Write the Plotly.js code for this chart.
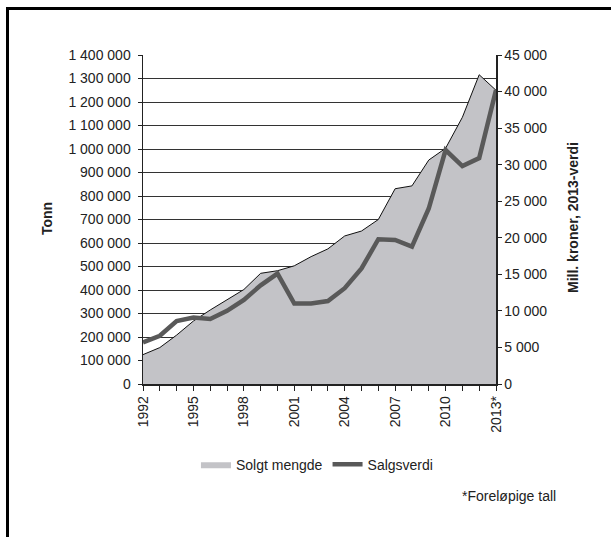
<!DOCTYPE html>
<html>
<head>
<meta charset="utf-8">
<script src="https://cdn.plot.ly/plotly-3.0.1.min.js"></script>
<style>
  html, body { margin: 0; padding: 0; background: #fff; }
  #frame { position: absolute; left: 6px; top: 7px; width: 700px; height: 700px;
           border-left: 3px solid #000; border-top: 3px solid #000; pointer-events: none; }
  #chart { position: absolute; left: 0; top: 0; width: 611px; height: 537px; }
</style>
</head>
<body>
<div id="chart"></div>
<div id="frame"></div>
<script>
const years = ["1992","1993","1994","1995","1996","1997","1998","1999","2000","2001","2002",
               "2003","2004","2005","2006","2007","2008","2009","2010","2011","2012","2013*"];
const labelledYears = ["1992","1995","1998","2001","2004","2007","2010","2013*"];
// Solgt mengde (tonn)
const soldTonnes = [125000,155000,208000,268000,315000,357000,402000,471000,482000,503000,542000,
                    575000,630000,651000,700000,831000,843000,953000,1003000,1135000,1316000,1250000];
// Salgsverdi (mill. kroner, 2013-verdi)
const salesValue = [5700,6600,8600,9100,8900,10000,11500,13500,15100,11000,11000,
                    11350,13100,15800,19800,19700,18800,24000,32000,29800,30900,40200];
const leftTicks = [0,100000,200000,300000,400000,500000,600000,700000,800000,900000,1000000,1100000,1200000,1300000,1400000];
const rightTicks = [0,5000,10000,15000,20000,25000,30000,35000,40000,45000];

const font = {family: "Liberation Sans, Arial, sans-serif", size: 14, color: "#222"};

const traces = [
  {
    x: years, y: soldTonnes, name: "Solgt mengde", type: "scatter", mode: "lines",
    fill: "tozeroy", fillcolor: "#c3c3c7", line: {color: "#c3c3c7", width: 0},
    yaxis: "y"
  },
  {
    x: years, y: soldTonnes, name: "Solgt mengde kant", type: "scatter", mode: "lines",
    line: {color: "#111", width: 1}, showlegend: false, yaxis: "y"
  },
  {
    x: years, y: salesValue, name: "Salgsverdi", type: "scatter", mode: "lines",
    line: {color: "#595959", width: 4.5}, yaxis: "y2"
  }
];

const layout = {
  width: 611, height: 537,
  margin: {l: 143, r: 115, t: 55, b: 153},
  paper_bgcolor: "#fff", plot_bgcolor: "#fff",
  font: font,
  separators: ", ",
  showlegend: true,
  legend: {orientation: "h", x: 0.15, y: -0.245, xanchor: "left", yanchor: "middle",
           font: font, itemwidth: 30, tracegroupgap: 0, bgcolor: "rgba(0,0,0,0)"},
  xaxis: {
    type: "category", range: [0, 21],
    tickmode: "array", tickvals: years,
    ticktext: years.map(y => labelledYears.includes(y) ? y : ""),
    tickangle: -90, ticks: "outside", ticklen: 5, tickcolor: "#222",
    showline: true, linecolor: "#222", linewidth: 1.5,
    showgrid: false, zeroline: false, fixedrange: true, automargin: false
  },
  yaxis: {
    range: [0, 1400000], tickmode: "array", tickvals: leftTicks, tickformat: ",d",
    ticks: "outside", ticklen: 4, tickcolor: "#222", ticklabelstandoff: 4,
    showline: true, linecolor: "#222", linewidth: 1.5,
    showgrid: true, gridcolor: "#333", gridwidth: 1, zeroline: false, automargin: false
  },
  yaxis2: {
    overlaying: "y", side: "right", range: [0, 45000],
    tickmode: "array", tickvals: rightTicks, tickformat: ",d",
    ticks: "outside", ticklen: 4, tickcolor: "#222",
    showline: true, linecolor: "#222", linewidth: 1.5,
    showgrid: false, zeroline: false, automargin: false
  },
  annotations: [
    {text: "<b>Tonn</b>", textangle: -90, xref: "paper", yref: "paper",
     x: (47 - 143) / 353, y: (384 - 218) / 329, xanchor: "center", yanchor: "middle",
     showarrow: false, font: {family: font.family, size: 14, color: "#222"}},
    {text: "<b>Mill. kroner, 2013-verdi</b>", textangle: -90, xref: "paper", yref: "paper",
     x: (573 - 143) / 353, y: (384 - 218) / 329, xanchor: "center", yanchor: "middle",
     showarrow: false, font: {family: font.family, size: 14, color: "#222"}},
    {text: "*Foreløpige tall", xref: "paper", yref: "paper",
     x: (558 - 143) / 353, y: (384 - 496) / 329, xanchor: "right", yanchor: "middle",
     showarrow: false, font: font}
  ]
};

Plotly.newPlot("chart", traces, layout, {displayModeBar: false, staticPlot: true});
</script>
</body>
</html>
